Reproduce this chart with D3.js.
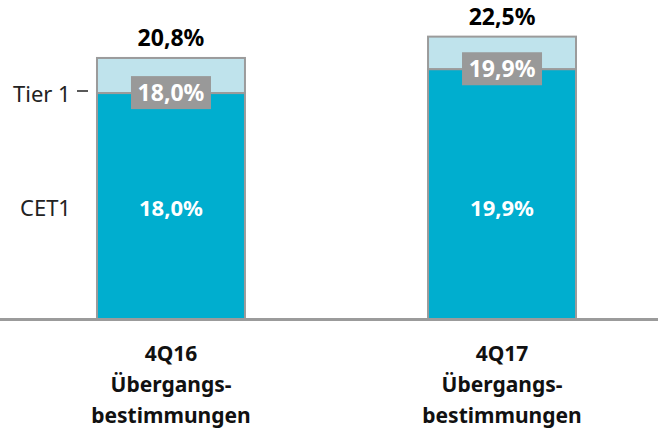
<!DOCTYPE html>
<html>
<head>
<meta charset="utf-8">
<script src="https://cdn.jsdelivr.net/npm/d3@7"></script>
<style>
  body { margin: 0; background: #fff; }
  text { font-family: "Noto Sans", "Open Sans", sans-serif; }
</style>
</head>
<body>
<div id="chart"></div>
<script>
// values
const periods = ["4Q16", "4Q17"];
const subLabels = [["Übergangs-", "bestimmungen"], ["Übergangs-", "bestimmungen"]];
const cet1 = [18.0, 19.9];
const tier1 = [18.0, 19.9];
const total = [20.8, 22.5];
const seriesNames = ["Tier 1", "CET1"];

const W = 658, H = 430;
const fmt = v => d3.format(".1f")(v).replace(".", ",") + "%";

const svg = d3.select("#chart").append("svg")
  .attr("width", W).attr("height", H);

const x = d3.scaleBand().domain(periods).range([0, 673]).paddingInner(0.553).paddingOuter(0.293);
const y = d3.scaleLinear().domain([0, 25]).range([319, 319 - 12.55 * 25]);

const rows = periods.map((p, i) => ({ p, cet1: cet1[i], tier1: tier1[i], total: total[i], sub: subLabels[i] }));

// light part (total on top of tier 1)
svg.selectAll("rect.top").data(rows).join("rect")
  .attr("x", d => x(d.p)).attr("width", x.bandwidth())
  .attr("y", d => y(d.total)).attr("height", d => y(d.tier1) - y(d.total))
  .attr("fill", "#bfe3ec").attr("stroke", "#9b9b9b").attr("stroke-width", 2);

// CET1 part
svg.selectAll("rect.base").data(rows).join("rect")
  .attr("x", d => x(d.p)).attr("width", x.bandwidth())
  .attr("y", d => y(d.cet1)).attr("height", d => y(0) - y(d.cet1))
  .attr("fill", "#00aecf").attr("stroke", "#9b9b9b").attr("stroke-width", 2);

// baseline
svg.append("line").attr("x1", 0).attr("x2", W).attr("y1", y(0) + 0.5).attr("y2", y(0) + 0.5)
  .attr("stroke", "#9b9b9b").attr("stroke-width", 3);

// tier 1 label boxes
const box = svg.selectAll("g.t1").data(rows).join("g")
  .attr("transform", d => `translate(${x(d.p) + x.bandwidth() / 2},${y(d.tier1)})`);
box.append("rect").attr("x", -40).attr("y", -17).attr("width", 80).attr("height", 33).attr("fill", "#999999");
box.append("text").attr("text-anchor", "middle").attr("y", 8)
  .attr("fill", "#fff").attr("font-weight", "bold").attr("font-size", 23)
  .text(d => fmt(d.tier1));

// CET1 inside labels
svg.selectAll("text.in").data(rows).join("text")
  .attr("x", d => x(d.p) + x.bandwidth() / 2).attr("y", 216)
  .attr("text-anchor", "middle").attr("fill", "#fff").attr("font-weight", "bold").attr("font-size", 22)
  .text(d => fmt(d.cet1));

// totals
svg.selectAll("text.tot").data(rows).join("text")
  .attr("x", d => x(d.p) + x.bandwidth() / 2).attr("y", d => y(d.total) - 12)
  .attr("text-anchor", "middle").attr("fill", "#000").attr("font-weight", "bold").attr("font-size", 23)
  .text(d => fmt(d.total));

// category labels
const cat = svg.selectAll("text.cat").data(rows).join("text")
  .attr("text-anchor", "middle").attr("font-weight", "bold").attr("font-size", 21).attr("fill", "#111");
cat.each(function(d) {
  const t = d3.select(this);
  const cx = x(d.p) + x.bandwidth() / 2;
  [d.p, ...d.sub].forEach((s, k) => t.append("tspan").attr("x", cx).attr("y", 361 + k * 31).text(s));
});

// series names on the left
svg.append("text").attr("x", 13).attr("y", 102).attr("font-size", 22).attr("fill", "#222").text(seriesNames[0]);
svg.append("line").attr("x1", 77).attr("x2", 88).attr("y1", 91).attr("y2", 91).attr("stroke", "#222").attr("stroke-width", 1.5);
svg.append("text").attr("x", 20).attr("y", 216).attr("font-size", 22).attr("fill", "#222").text(seriesNames[1]);
</script>
</body>
</html>
